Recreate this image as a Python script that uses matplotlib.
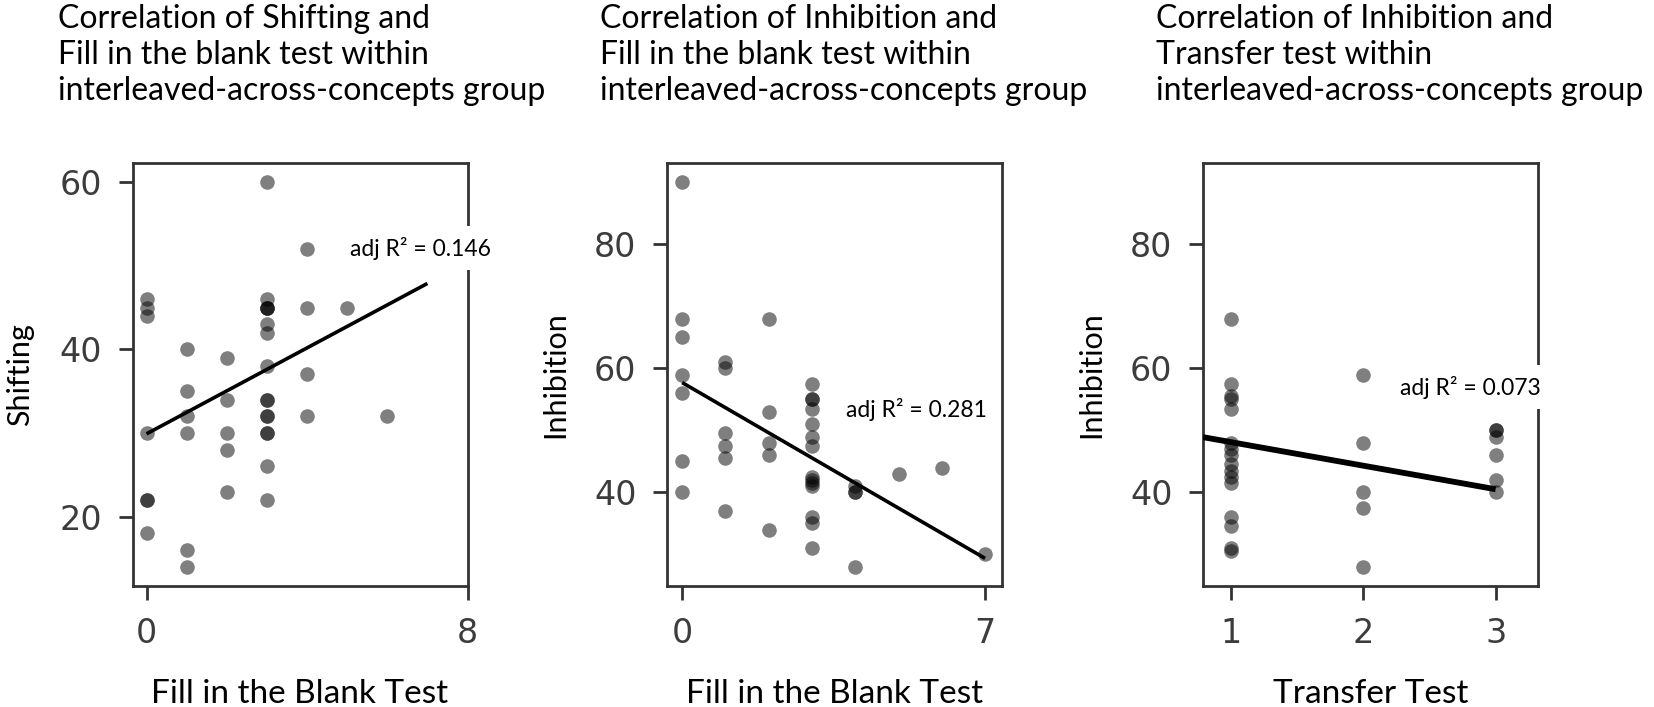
import matplotlib.pyplot as plt
import numpy as np

# panel 1: shifting vs fill in the blank test
shift_fill_x = [0, 0, 0, 0, 0, 0, 0,
                1, 1, 1, 1, 1, 1,
                2, 2, 2, 2, 2,
                3, 3, 3, 3, 3, 3, 3, 3, 3, 3, 3, 3, 3, 3, 3, 3,
                4, 4, 4, 4,
                5, 6]
shift_fill_y = [46, 45, 44, 30, 22, 22, 18,
                40, 35, 32, 30, 16, 14,
                39, 34, 30, 28, 23,
                60, 46, 45, 45, 45, 43, 42, 38, 34, 34, 32, 32, 30, 30, 26, 22,
                52, 45, 37, 32,
                45, 32]

# panel 2: inhibition vs fill in the blank test
inhib_fill_x = [0, 0, 0, 0, 0, 0, 0,
                1, 1, 1, 1, 1, 1,
                2, 2, 2, 2, 2,
                3, 3, 3, 3, 3, 3, 3, 3, 3, 3, 3, 3, 3, 3,
                4, 4, 4, 4,
                5, 6, 7]
inhib_fill_y = [90, 68, 65, 59, 56, 45, 40,
                61, 60, 49.5, 47.5, 45.5, 37,
                68, 53, 48, 46, 34,
                57.5, 55, 55, 53.5, 51, 49, 47.5, 42.5, 42, 41.5, 41, 36, 35, 31,
                41, 40, 40, 28,
                43, 44, 30]

# panel 3: inhibition vs transfer test
inhib_transfer_x = [1, 1, 1, 1, 1, 1, 1, 1, 1, 1, 1, 1, 1, 1, 1, 1,
                    2, 2, 2, 2, 2,
                    3, 3, 3, 3, 3, 3]
inhib_transfer_y = [68, 57.5, 55.5, 55, 53.5, 48, 47, 46, 44.5, 43.5, 42.5, 41.5, 36, 34.5, 31, 30.5,
                    59, 48, 40, 37.5, 28,
                    50, 50, 49, 46, 42, 40]

# fitted lines: (intercept, slope, x start, x end)
fit_lines = [(29.9, 2.57, 0, 7), (57.7, -4.05, 0, 7), (51.9, -3.8, 0.79, 3)]
adj_r2 = ['0.146', '0.281', '0.073']

titles = [['Correlation of Shifting and', 'Fill in the blank test within',
           'interleaved-across-concepts group'],
          ['Correlation of Inhibition and', 'Fill in the blank test within',
           'interleaved-across-concepts group'],
          ['Correlation of Inhibition and', 'Transfer test within',
           'interleaved-across-concepts group']]
xlabels = ['Fill in the Blank Test', 'Fill in the Blank Test', 'Transfer Test']
ylabels = ['Shifting', 'Inhibition', 'Inhibition']
xticks = [[0, 8], [0, 7], [1, 2, 3]]
yticks = [[20, 40, 60], [40, 60, 80], [40, 60, 80]]

LABEL_FONT = 'Lato'
W, H = 1654, 707
fig = plt.figure(figsize=(W / 100, H / 100), dpi=100)

ax_lefts = [132.5, 667, 1203]
ax_top, ax_bottom, ax_w = 163, 586, 335
title_lefts = [58, 600, 1156]
text_pos = [(0.649, 0.799), (0.534, 0.418), (0.588, 0.470)]
line_widths = [2.6, 2.6, 4.2]

xs = [shift_fill_x, inhib_fill_x, inhib_transfer_x]
ys = [shift_fill_y, inhib_fill_y, inhib_transfer_y]

axes = []
for i in range(3):
    ax = fig.add_axes([ax_lefts[i] / W, (H - ax_bottom) / H, ax_w / W,
                       (ax_bottom - ax_top) / H])
    axes.append(ax)
    ax.scatter(xs[i], ys[i], s=110, color='black', alpha=0.5, linewidths=0, zorder=2)

    b0, b1, x0, x1 = fit_lines[i]
    lx = np.array([x0, x1])
    ax.plot(lx, b0 + b1 * lx, color='black', lw=line_widths[i], zorder=3,
            solid_capstyle='butt')

    for sp in ax.spines.values():
        sp.set_linewidth(2.0)
        sp.set_color('#333333')
    ax.set_xticks(xticks[i])
    ax.set_yticks(yticks[i])
    ax.tick_params(length=10, width=2.0, color='#333333', labelsize=24,
                   labelcolor='#3c3c3c', pad=12)
    ax.set_xlabel(xlabels[i], fontsize=24, family=LABEL_FONT, va='baseline')
    # baseline of the x label under the axes
    ax.xaxis.set_label_coords(0.5, -117 / (ax_bottom - ax_top))
    ax.set_ylabel(ylabels[i], fontsize=22, family=LABEL_FONT, labelpad=18)

    tx, ty = text_pos[i]
    ax.text(tx, ty, 'adj R\u00b2 = ' + adj_r2[i], transform=ax.transAxes,
            fontsize=16.5, family=LABEL_FONT, va='center', ha='left', zorder=5,
            clip_on=False,
            bbox=dict(boxstyle='square,pad=0.45', facecolor='white', edgecolor='none'))

    for j, line in enumerate(titles[i]):
        fig.text(title_lefts[i] / W, 1 - (28 + 36 * j) / H, line,
                 fontsize=23, family=LABEL_FONT, ha='left', va='baseline')

axes[0].set_xlim(-0.35, 8)
axes[1].set_xlim(-0.35, 7.39)
axes[2].set_xlim(0.79, 3.32)
axes[0].set_ylim(11.7, 62.3)
axes[1].set_ylim(24.9, 93.1)
axes[2].set_ylim(24.9, 93.1)

fig.savefig('out.png', dpi=100, facecolor='white')
